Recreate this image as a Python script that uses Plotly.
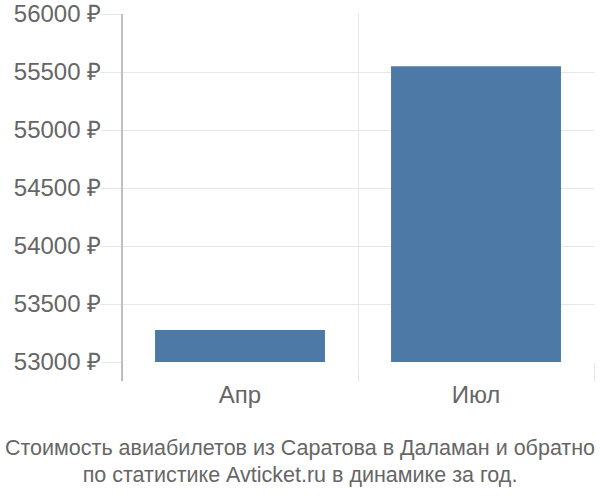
import plotly.graph_objects as go

categories = ["Апр", "Июл"]
prices = [53275, 55550]
y_ticks = [53000, 53500, 54000, 54500, 55000, 55500, 56000]
y_tick_labels = [f"{v} ₽" for v in y_ticks]
title_text = "Стоимость авиабилетов из Саратова в Даламан и обратно<br>по статистике Avticket.ru в динамике за год."

FONT = "Liberation Sans, Arial, sans-serif"
GRID = "#e6e6e6"

fig = go.Figure(
    go.Bar(
        x=categories,
        y=prices,
        marker=dict(color="#4d79a7", line=dict(width=0)),
        width=0.72,
        hoverinfo="x+y",
    )
)

fig.update_layout(
    width=600,
    height=500,
    margin=dict(l=122, r=6, t=14, b=138, autoexpand=False),
    paper_bgcolor="white",
    plot_bgcolor="white",
    font=dict(family=FONT, color="#666666", size=24),
    showlegend=False,
    title=dict(
        text=title_text,
        x=0.5,
        xref="container",
        xanchor="center",
        y=0.091,
        yref="container",
        yanchor="middle",
        font=dict(family=FONT, size=21.5, color="#666666"),
    ),
    xaxis=dict(
        type="category",
        tickson="boundaries",
        ticks="outside",
        ticklen=19,
        tickcolor=GRID,
        tickwidth=1,
        showgrid=True,
        gridcolor=GRID,
        gridwidth=1,
        showline=False,
        zeroline=False,
        automargin=False,
        ticklabelstandoff=16,
        ticklabeloverflow="allow",
        tickfont=dict(size=24, color="#666666"),
        range=[-0.5, 1.5],
    ),
    yaxis=dict(
        range=[53000, 56000],
        tickvals=y_ticks,
        ticktext=y_tick_labels,
        ticks="outside",
        ticklen=20,
        tickcolor=GRID,
        tickwidth=1,
        showgrid=True,
        gridcolor=GRID,
        gridwidth=1,
        zeroline=False,
        showline=False,
        automargin=False,
        ticklabelstandoff=-5,
        ticklabeloverflow="allow",
        tickfont=dict(size=24, color="#666666"),
    ),
    shapes=[
        dict(
            type="line",
            xref="paper",
            yref="paper",
            x0=0,
            x1=0,
            y0=-19 / 348,
            y1=1,
            line=dict(color="#aaaaaa", width=1.5),
        )
    ],
)

fig.write_html(
    "out.html",
    config={"displayModeBar": False},
    post_script="document.body.style.margin='0';",
)
